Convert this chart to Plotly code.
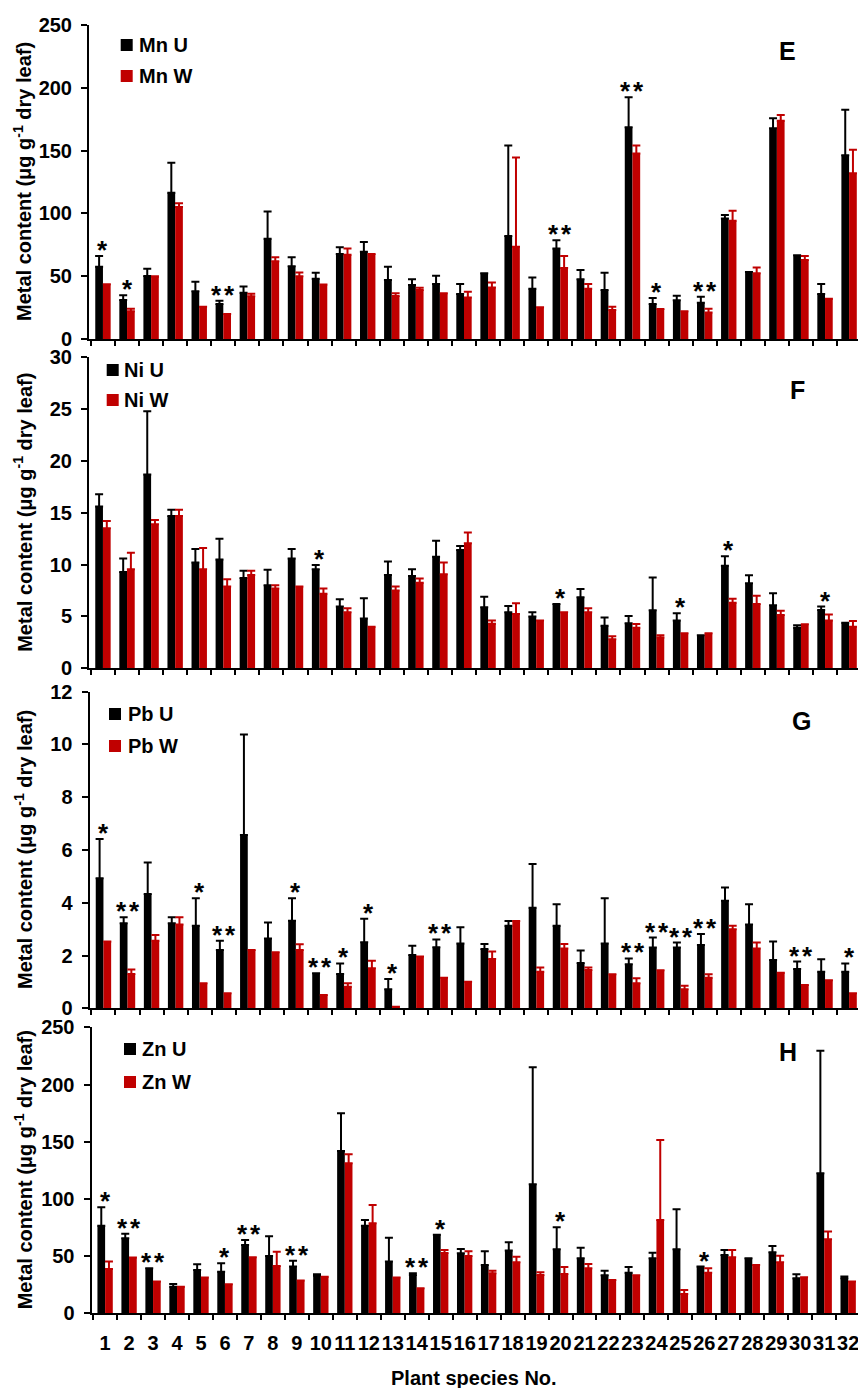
import plotly.graph_objects as go

W, H = 858, 1388
species = [str(i) for i in range(1, 33)]

# ---------------- Data ----------------
mn_u = [57.6, 31, 50.2, 116.5, 38, 27.9, 36.9, 79.9, 58, 48, 67.7, 69.5, 47, 43, 43.8, 35.8,
        52.3, 82, 40, 72, 47.5, 39, 168.5, 27.9, 30.8, 28.9, 96, 53.3, 167.7, 66.6, 35.8, 146.2]
mn_u_sd = [8.4, 3.8, 5.8, 23.9, 7.6, 2.6, 4.8, 21.7, 7, 4.8, 5.3, 7.7, 10.6, 4.5, 6.6, 8,
           0, 72, 9, 6.6, 7.5, 13.8, 23.9, 4.7, 3.7, 4.8, 2.7, 0, 8, 0, 8, 36.4]
mn_w = [43.5, 22, 49.6, 105, 25.7, 19.9, 34, 62, 50, 43.3, 67, 67.7, 34.2, 39, 36.4, 33,
        41, 73.5, 25.2, 56.5, 40, 23, 147.6, 23.9, 22, 21, 94.2, 52.3, 173.8, 62.9, 32.1, 131.9]
mn_w_sd = [0, 2, 0.4, 3, 0, 0, 2, 3, 3, 0, 5, 0, 2.2, 1.9, 0, 4.7,
           4, 71.1, 0, 9.5, 3.8, 2.7, 6.4, 0, 0, 3, 8, 4.7, 4.5, 3.1, 0, 18.8]
mn_sig = {1: "*", 2: "*", 6: "**", 20: "**", 23: "**", 24: "*", 26: "**"}

ni_u = [15.6, 9.3, 18.7, 14.7, 10.2, 10.5, 8.7, 8.0, 10.6, 9.55, 5.95, 4.8, 9.0, 8.9, 10.77, 11.4,
        5.9, 5.4, 5.0, 6.2, 6.85, 4.1, 4.34, 5.6, 4.6, 3.2, 9.9, 8.2, 6.08, 3.92, 5.63, 4.4]
ni_u_sd = [1.2, 1.3, 6.1, 0.6, 1.3, 2.0, 0.7, 1.5, 0.9, 0.42, 0.7, 1.95, 1.3, 0.65, 1.53, 0.4,
           1.0, 0.6, 0.4, 0, 0.8, 0.8, 0.71, 3.15, 0.7, 0, 0.9, 0.77, 1.15, 0.23, 0.32, 0]
ni_w = [13.5, 9.55, 13.9, 14.7, 9.55, 7.9, 9.0, 7.7, 7.9, 7.2, 5.4, 4.0, 7.5, 8.26, 9.07, 12.06,
        4.3, 5.24, 4.6, 5.4, 5.4, 2.8, 3.9, 2.96, 3.38, 3.38, 6.33, 6.2, 5.14, 4.24, 4.6, 4.0]
ni_w_sd = [0.7, 1.6, 0.4, 0.6, 2.05, 0.7, 0.4, 0.3, 0, 0.5, 0.4, 0, 0.4, 0.4, 1.13, 1.04,
           0.3, 1.03, 0, 0, 0.4, 0.3, 0.38, 0.24, 0, 0, 0.37, 0.8, 0.42, 0, 0.58, 0.57]
ni_sig = {10: "*", 20: "*", 25: "*", 27: "*", 31: "*"}

pb_u = [4.93, 3.22, 4.33, 3.22, 3.13, 2.21, 6.57, 2.65, 3.32, 1.33, 1.3, 2.5, 0.72, 2.02, 2.31, 2.46,
        2.25, 3.13, 3.81, 3.13, 1.72, 2.46, 1.67, 2.3, 2.3, 2.4, 4.08, 3.18, 1.83, 1.49, 1.39, 1.39]
pb_u_sd = [1.49, 0.23, 1.2, 0.23, 1.04, 0.35, 3.81, 0.6, 0.85, 0, 0.4, 0.89, 0.39, 0.35, 0.3, 0.61,
           0.19, 0.18, 1.66, 0.81, 0.47, 1.71, 0.22, 0.38, 0.19, 0.42, 0.5, 0.76, 0.7, 0.28, 0.47, 0.31]
pb_w = [2.53, 1.3, 2.56, 3.18, 0.95, 0.57, 2.21, 2.12, 2.21, 0.5, 0.82, 1.52, 0.06, 1.96, 1.16, 1.01,
        1.87, 3.31, 1.39, 2.27, 1.45, 1.29, 0.95, 1.44, 0.72, 1.16, 3.0, 2.27, 1.35, 0.88, 1.06, 0.57]
pb_w_sd = [0, 0.17, 0.22, 0.27, 0, 0, 0, 0, 0.22, 0, 0.13, 0.28, 0, 0, 0, 0,
           0.28, 0, 0.16, 0.17, 0.1, 0, 0.19, 0, 0.13, 0.13, 0.13, 0.22, 0, 0, 0, 0]
pb_sig = {1: "*", 2: "**", 5: "*", 6: "**", 9: "*", 10: "**", 11: "*", 12: "*", 13: "*", 15: "**",
          23: "**", 24: "**", 25: "**", 26: "**", 30: "**", 32: "*"}

zn_u = [76.6, 65.6, 39.3, 23.3, 37.9, 36.4, 59.7, 50.1, 40.8, 32.9, 141.9, 76.6, 45.2, 33.5, 68.7, 52.4,
        42.2, 54.8, 112.8, 55.9, 48.1, 33.2, 35.5, 48.1, 55.9, 40.8, 51, 48.1, 53.3, 30.6, 122.4, 30.6]
zn_u_sd = [16.1, 4, 0, 2.3, 4.9, 7.3, 4.4, 17.2, 5.2, 1.2, 32.9, 5, 20.9, 1.5, 0, 3.8,
           12, 7.3, 102.2, 19.3, 9.3, 4.1, 5, 4.9, 35, 0, 4.4, 0, 5.6, 3.5, 107.2, 1.5]
zn_w = [38.8, 48.7, 27.7, 23.3, 31.2, 25.3, 49, 41.4, 28.6, 32, 131.1, 78.7, 31.2, 21.9, 52.7, 50.1,
        35, 44.6, 33.5, 34.4, 39.3, 29.1, 33.2, 81.6, 16.9, 35.5, 49, 42.2, 44.6, 31.5, 64.7, 27.7]
zn_w_sd = [6.4, 0, 0, 0, 0, 0, 0, 12.5, 0, 0, 7.9, 16, 0, 0, 2.7, 4.1,
           2.3, 4.9, 2.3, 6.1, 3.8, 0, 0, 69.9, 3.5, 3.8, 6.4, 0, 5.8, 0, 6.7, 0]
zn_sig = {1: "*", 2: "**", 3: "**", 6: "*", 7: "**", 9: "**", 14: "**", 15: "*", 20: "*", 26: "*"}

panels = [
    dict(metal="Mn", letter="E", u=mn_u, usd=mn_u_sd, w=mn_w, wsd=mn_w_sd, sig=mn_sig,
         yr=[0, 250], dt=50, top=25, bot=339, ax0=89, xr=[-0.58, 31.37],
         leg=(120.7, 39, 70, 137), lab=(787, 51)),
    dict(metal="Ni", letter="F", u=ni_u, usd=ni_u_sd, w=ni_w, wsd=ni_w_sd, sig=ni_sig,
         yr=[0, 30], dt=5, top=357.3, bot=668.3, ax0=89, xr=[-0.58, 31.37],
         leg=(106.7, 364, 394, 122), lab=(797, 390)),
    dict(metal="Pb", letter="G", u=pb_u, usd=pb_u_sd, w=pb_w, wsd=pb_w_sd, sig=pb_sig,
         yr=[0, 12], dt=2, top=691.7, bot=1008.3, ax0=89.5, xr=[-0.58, 31.37],
         leg=(109, 708, 740, 126), lab=(801, 721)),
    dict(metal="Zn", letter="H", u=zn_u, usd=zn_u_sd, w=zn_w, wsd=zn_w_sd, sig=zn_sig,
         yr=[0, 250], dt=50, top=1027.3, bot=1313.3, ax0=91.5, xr=[-0.568, 31.41],
         leg=(124, 1043, 1076, 140), lab=(788, 1052)),
]

BLACK = "#000000"
RED = "#C00000"
FONT = "Liberation Sans, Arial, sans-serif"


def px(x):
    return x / W


def py(y):
    return 1 - y / H


fig = go.Figure()
layout = dict(width=W, height=H,
              margin=dict(l=0, r=0, t=0, b=0, pad=0, autoexpand=False),
              paper_bgcolor="white", plot_bgcolor="white", showlegend=False,
              barmode="group", bargap=0.36, bargroupgap=0,
              font=dict(family=FONT, size=20, color="black", weight="bold"))
annotations = []
shapes = []

for i, p in enumerate(panels):
    n = "" if i == 0 else str(i + 1)
    xa, ya = "x" + n, "y" + n
    for vals, sd, col, name in [(p["u"], p["usd"], BLACK, p["metal"] + " U"),
                                (p["w"], p["wsd"], RED, p["metal"] + " W")]:
        fig.add_trace(go.Bar(
            x=species, y=vals, name=name, marker=dict(color=col, line=dict(width=0)),
            error_y=dict(type="data", symmetric=False, array=sd, arrayminus=[0] * len(sd),
                         color=col, thickness=2, width=4),
            xaxis=xa, yaxis=ya))
    last = i == len(panels) - 1
    layout["xaxis" + n] = dict(
        domain=[px(p["ax0"]), 1], anchor=ya, type="category", categoryorder="array",
        categoryarray=species, range=p["xr"], showline=True, linecolor="black", linewidth=2,
        ticks="outside", ticklen=5, tickwidth=2, tickcolor="black", tickson="boundaries",
        tickmode="array", tickvals=species, ticktext=species, tickangle=0,
        showgrid=False, zeroline=False, showticklabels=last,
        tickfont=dict(family=FONT, size=20, color="black", weight="bold"),
        ticklabelstandoff=11)
    layout["yaxis" + n] = dict(
        domain=[py(p["bot"]), py(p["top"])], anchor=xa, range=p["yr"], dtick=p["dt"],
        tick0=0, showline=True, linecolor="black", linewidth=2, ticks="outside",
        ticklen=6, tickwidth=2, tickcolor="black", showgrid=False, zeroline=False,
        tickfont=dict(family=FONT, size=20, color="black", weight="bold"),
        ticklabelstandoff=5)

    annotations.append(dict(
        text="Metal content (μg g<sup>-1</sup> dry leaf)", textangle=-90,
        x=px(23), y=py((p["top"] + p["bot"]) / 2), xref="paper", yref="paper",
        xanchor="center", yanchor="middle", showarrow=False,
        font=dict(family=FONT, size=20, color="black", weight="bold")))
    annotations.append(dict(
        text=p["letter"], x=px(p["lab"][0]), y=py(p["lab"][1]), xref="paper", yref="paper",
        xanchor="center", yanchor="middle", showarrow=False,
        font=dict(family=FONT, size=25, color="black", weight="bold")))
    lx, ly1, ly2, tx = p["leg"]
    for yy, col, lbl in [(ly1, BLACK, p["metal"] + " U"), (ly2, RED, p["metal"] + " W")]:
        shapes.append(dict(type="rect", xref="paper", yref="paper",
                           x0=px(lx), x1=px(lx + 12), y0=py(yy + 12), y1=py(yy),
                           fillcolor=col, line=dict(width=0)))
        annotations.append(dict(
            text=lbl, x=px(tx), y=py(yy + 6), xref="paper", yref="paper",
            xanchor="left", yanchor="middle", showarrow=False,
            font=dict(family=FONT, size=20, color="black", weight="bold")))
    for k, s in p["sig"].items():
        j = k - 1
        top = max(p["u"][j] + p["usd"][j], p["w"][j] + p["wsd"][j])
        shifts = [0] if s == "*" else [-6.5, 6.5]
        for sh in shifts:
            annotations.append(dict(
                text="*", x=j, y=top, xref=xa, yref=ya, xanchor="center",
                yanchor="middle", xshift=sh, yshift=6, showarrow=False,
                font=dict(family=FONT, size=26, color="black", weight="bold")))

annotations.append(dict(
    text="Plant species No.", x=px(474), y=py(1378), xref="paper", yref="paper",
    xanchor="center", yanchor="middle", showarrow=False,
    font=dict(family=FONT, size=20, color="black", weight="bold")))

layout["annotations"] = annotations
layout["shapes"] = shapes
fig.update_layout(**layout)

fix_page = (
    "var s=document.documentElement.style;s.margin='0';s.padding='0';s.overflow='hidden';"
    "var b=document.body.style;b.margin='0';b.padding='0';b.overflow='hidden';"
)
fig.write_html("out.html", config={"displayModeBar": False}, post_script=fix_page)
